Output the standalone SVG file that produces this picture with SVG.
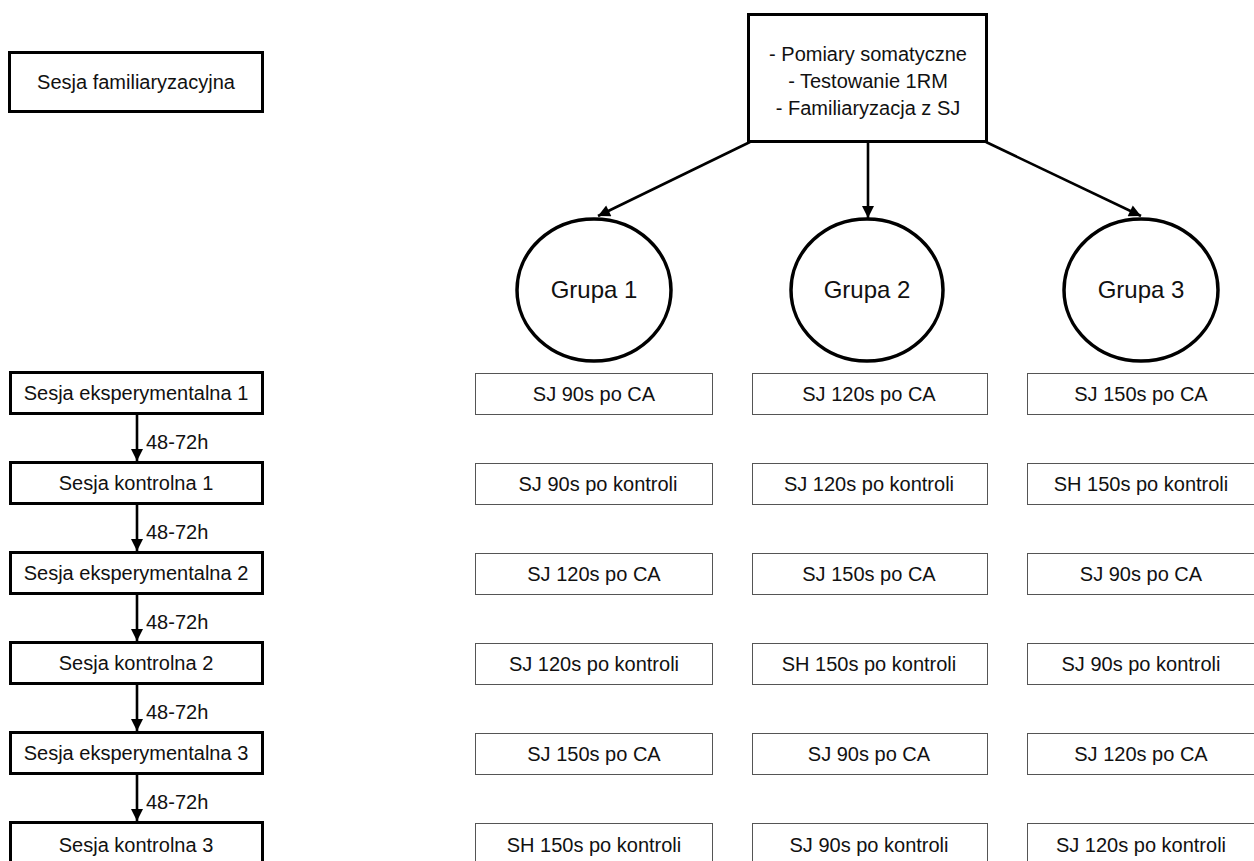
<svg xmlns="http://www.w3.org/2000/svg" width="1254" height="861" viewBox="0 0 1254 861">
  <defs>
    <marker id="arrow" viewBox="0 0 10 10" refX="10" refY="5" markerWidth="5" markerHeight="4.6" markerUnits="strokeWidth" orient="auto">
      <path d="M0,0 L10,5 L0,10 z" fill="#000"/>
    </marker>
    <style>
      text { font-family: "Liberation Sans", Arial, sans-serif; fill: #111; text-anchor: middle; dominant-baseline: central; }
      .thick { fill: #fff; stroke: #000; stroke-width: 3; }
      .thin { fill: #fff; stroke: #555; stroke-width: 1; }
      .grp { fill: #fff; stroke: #000; stroke-width: 3.5; }
      .conn { stroke: #000; stroke-width: 2.6; fill: none; marker-end: url(#arrow); }
      .t20 { font-size: 20px; }
      .t24 { font-size: 24px; }
      .lbl { font-size: 20px; text-anchor: start; }
    </style>
  </defs>
  <rect width="1254" height="861" fill="#fff"/>

  <!-- connectors -->
  <g id="connectors">
    <line class="conn" x1="750" y1="142" x2="598" y2="216"/>
    <line class="conn" x1="868" y1="142" x2="868" y2="218"/>
    <line class="conn" x1="986" y1="142" x2="1141" y2="216"/>
    <line class="conn" x1="137" y1="414" x2="137" y2="461"/>
    <line class="conn" x1="137" y1="504" x2="137" y2="551"/>
    <line class="conn" x1="137" y1="594" x2="137" y2="641"/>
    <line class="conn" x1="137" y1="684" x2="137" y2="731"/>
    <line class="conn" x1="137" y1="774" x2="137" y2="821"/>
    <text class="lbl" x="146" y="442">48-72h</text>
    <text class="lbl" x="146" y="532">48-72h</text>
    <text class="lbl" x="146" y="622">48-72h</text>
    <text class="lbl" x="146" y="712">48-72h</text>
    <text class="lbl" x="146" y="802">48-72h</text>
  </g>

  <!-- familiarisation session -->
  <g id="familiar">
    <rect class="thick" x="9.5" y="52.5" width="253" height="59"/>
    <text class="t20" x="136" y="82">Sesja familiaryzacyjna</text>
  </g>

  <!-- preliminary measurements -->
  <g id="prelim">
    <rect class="thick" x="748.5" y="14.5" width="238" height="127"/>
    <text class="t20" x="868" y="54">- Pomiary somatyczne</text>
    <text class="t20" x="868" y="81">- Testowanie 1RM</text>
    <text class="t20" x="868" y="108">- Familiaryzacja z SJ</text>
  </g>

  <!-- groups -->
  <g id="grupa1">
    <ellipse class="grp" cx="594" cy="290" rx="77" ry="71"/>
    <text class="t24" x="594" y="289">Grupa 1</text>
  </g>
  <g id="grupa2">
    <ellipse class="grp" cx="867" cy="290" rx="76" ry="71"/>
    <text class="t24" x="867" y="289">Grupa 2</text>
  </g>
  <g id="grupa3">
    <ellipse class="grp" cx="1141" cy="290" rx="77" ry="71"/>
    <text class="t24" x="1141" y="289">Grupa 3</text>
  </g>

  <!-- session sequence -->
  <g id="sesja-e1">
    <rect class="thick" x="10.5" y="372.5" width="252" height="41"/>
    <text class="t20" x="136" y="393">Sesja eksperymentalna 1</text>
  </g>
  <g id="sesja-k1">
    <rect class="thick" x="10.5" y="462.5" width="252" height="41"/>
    <text class="t20" x="136" y="483">Sesja kontrolna 1</text>
  </g>
  <g id="sesja-e2">
    <rect class="thick" x="10.5" y="552.5" width="252" height="41"/>
    <text class="t20" x="136" y="573">Sesja eksperymentalna 2</text>
  </g>
  <g id="sesja-k2">
    <rect class="thick" x="10.5" y="642.5" width="252" height="41"/>
    <text class="t20" x="136" y="663">Sesja kontrolna 2</text>
  </g>
  <g id="sesja-e3">
    <rect class="thick" x="10.5" y="732.5" width="252" height="41"/>
    <text class="t20" x="136" y="753">Sesja eksperymentalna 3</text>
  </g>
  <g id="sesja-k3">
    <rect class="thick" x="10.5" y="822.5" width="252" height="41"/>
    <text class="t20" x="136" y="845">Sesja kontrolna 3</text>
  </g>

  <!-- group 1 column -->
  <g id="g1-r1"><rect class="thin" x="475.5" y="373.5" width="237" height="41"/><text class="t20" x="594" y="394">SJ 90s po CA</text></g>
  <g id="g1-r2"><rect class="thin" x="475.5" y="463.5" width="237" height="41"/><text class="t20" x="598" y="484">SJ 90s po kontroli</text></g>
  <g id="g1-r3"><rect class="thin" x="475.5" y="553.5" width="237" height="41"/><text class="t20" x="594" y="574">SJ 120s po CA</text></g>
  <g id="g1-r4"><rect class="thin" x="475.5" y="643.5" width="237" height="41"/><text class="t20" x="594" y="664">SJ 120s po kontroli</text></g>
  <g id="g1-r5"><rect class="thin" x="475.5" y="733.5" width="237" height="41"/><text class="t20" x="594" y="754">SJ 150s po CA</text></g>
  <g id="g1-r6"><rect class="thin" x="475.5" y="823.5" width="237" height="41"/><text class="t20" x="594" y="845">SH 150s po kontroli</text></g>

  <!-- group 2 column -->
  <g id="g2-r1"><rect class="thin" x="752.5" y="373.5" width="235" height="41"/><text class="t20" x="869" y="394">SJ 120s po CA</text></g>
  <g id="g2-r2"><rect class="thin" x="752.5" y="463.5" width="235" height="41"/><text class="t20" x="869" y="484">SJ 120s po kontroli</text></g>
  <g id="g2-r3"><rect class="thin" x="752.5" y="553.5" width="235" height="41"/><text class="t20" x="869" y="574">SJ 150s po CA</text></g>
  <g id="g2-r4"><rect class="thin" x="752.5" y="643.5" width="235" height="41"/><text class="t20" x="869" y="664">SH 150s po kontroli</text></g>
  <g id="g2-r5"><rect class="thin" x="752.5" y="733.5" width="235" height="41"/><text class="t20" x="869" y="754">SJ 90s po CA</text></g>
  <g id="g2-r6"><rect class="thin" x="752.5" y="823.5" width="235" height="41"/><text class="t20" x="869" y="845">SJ 90s po kontroli</text></g>

  <!-- group 3 column -->
  <g id="g3-r1"><rect class="thin" x="1027.5" y="373.5" width="235" height="41"/><text class="t20" x="1141" y="394">SJ 150s po CA</text></g>
  <g id="g3-r2"><rect class="thin" x="1027.5" y="463.5" width="235" height="41"/><text class="t20" x="1141" y="484">SH 150s po kontroli</text></g>
  <g id="g3-r3"><rect class="thin" x="1027.5" y="553.5" width="235" height="41"/><text class="t20" x="1141" y="574">SJ 90s po CA</text></g>
  <g id="g3-r4"><rect class="thin" x="1027.5" y="643.5" width="235" height="41"/><text class="t20" x="1141" y="664">SJ 90s po kontroli</text></g>
  <g id="g3-r5"><rect class="thin" x="1027.5" y="733.5" width="235" height="41"/><text class="t20" x="1141" y="754">SJ 120s po CA</text></g>
  <g id="g3-r6"><rect class="thin" x="1027.5" y="823.5" width="235" height="41"/><text class="t20" x="1141" y="845">SJ 120s po kontroli</text></g>
</svg>
